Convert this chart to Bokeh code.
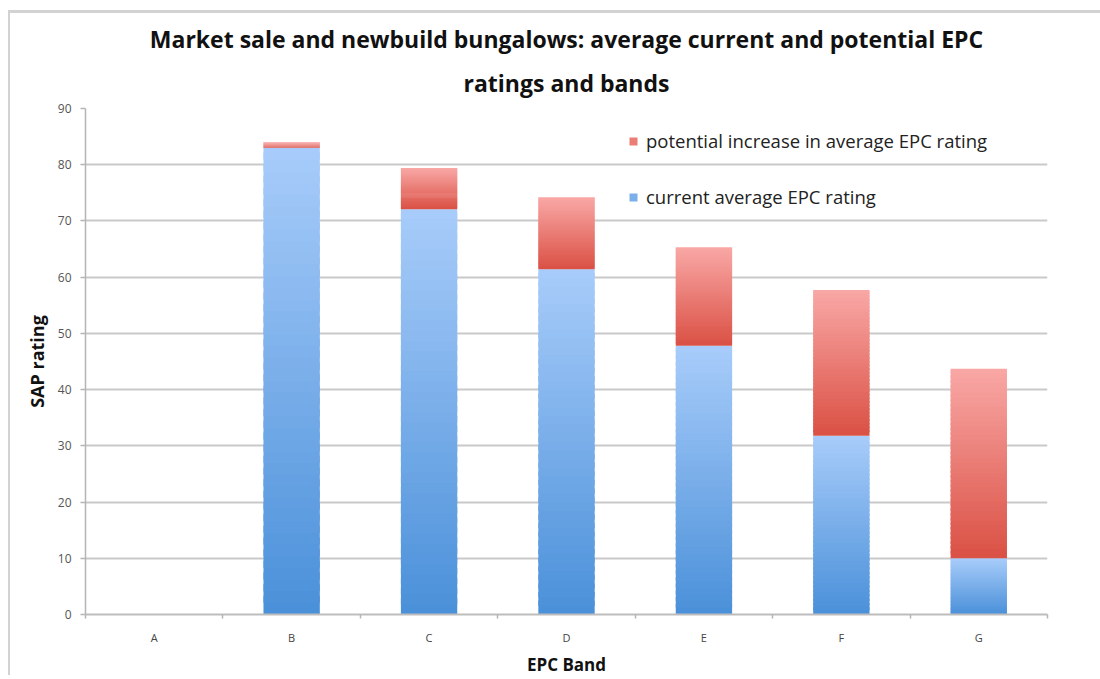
import numpy as np
from bokeh.plotting import figure
from bokeh.models import (ColumnDataSource, FixedTicker, Range1d, Legend, LegendItem, Spacer, Title)
from bokeh.layouts import column, row
from bokeh.embed import file_html
from bokeh.resources import INLINE

# ---- data ----
bands = ["A", "B", "C", "D", "E", "F", "G"]
current_rating = [0.0, 83.0, 72.1, 61.4, 47.8, 31.8, 10.0]
potential_rating = [0.0, 84.0, 79.4, 74.2, 65.3, 57.7, 43.7]
y_ticks = [0, 10, 20, 30, 40, 50, 60, 70, 80, 90]

title_line1 = "Market sale and newbuild bungalows: average current and potential EPC"
title_line2 = "ratings and bands"
series_names = ["potential increase in average EPC rating", "current average EPC rating"]

# ---- styles ----
BLUE_TOP, BLUE_BOT = (168, 204, 250), (74, 144, 217)
RED_TOP, RED_BOT = (249, 168, 166), (218, 80, 68)
BAR_W = 0.41
N_SLICES = 40
FONT = "Open Sans"


def hexc(c):
    return "#%02x%02x%02x" % tuple(int(round(v)) for v in c)


def gradient_source(bottoms, tops, c_top, c_bot, n=N_SLICES):
    L, R, B, T, C, owner = [], [], [], [], [], []
    for i, (b, t) in enumerate(zip(bottoms, tops)):
        if t - b <= 0:
            continue
        h = (t - b) / n
        for k in range(n):
            y0 = b + h * k
            y1 = b + h * (k + 1) + (h * 0.6 if k < n - 1 else 0)
            f = (k + 0.5) / n
            col = [c_bot[j] + (c_top[j] - c_bot[j]) * f for j in range(3)]
            L.append(i + 0.5 - BAR_W / 2)
            R.append(i + 0.5 + BAR_W / 2)
            B.append(y0)
            T.append(y1)
            C.append(hexc(col))
            owner.append(i)
    return ColumnDataSource(dict(left=L, right=R, bottom=B, top=T, color=C)), owner


p = figure(width=1092, height=665, output_backend="svg", toolbar_location=None,
           x_range=Range1d(0, len(bands)), y_range=Range1d(0, 90),
           min_border_left=75, min_border_right=55, min_border_top=95, min_border_bottom=63)
p.styles = {"border-top": "3px solid #d2d2d2", "border-left": "2px solid #d2d2d2"}
p.outline_line_color = None
p.background_fill_color = "white"
p.border_fill_color = "white"

# gridlines
p.xgrid.grid_line_color = None
p.ygrid.ticker = FixedTicker(ticks=y_ticks)
p.ygrid.grid_line_color = "#c9c9c9"
p.ygrid.grid_line_width = 2

# bars
src_cur, own_cur = gradient_source([0] * len(bands), current_rating, BLUE_TOP, BLUE_BOT)
src_pot, own_pot = gradient_source(current_rating, potential_rating, RED_TOP, RED_BOT)
r_cur = p.quad(left="left", right="right", bottom="bottom", top="top", fill_color="color",
               line_color=None, source=src_cur)
r_pot = p.quad(left="left", right="right", bottom="bottom", top="top", fill_color="color",
               line_color=None, source=src_pot)

idx_blue = own_cur.index(own_cur[-1]) + N_SLICES // 2
idx_red = own_pot.index(own_pot[-1]) + N_SLICES // 2
legend = Legend(items=[LegendItem(label=series_names[0], renderers=[r_pot], index=idx_red),
                       LegendItem(label=series_names[1], renderers=[r_cur], index=idx_blue)],
                location=(543, 405), orientation="vertical")
legend.background_fill_alpha = 0
legend.border_line_color = None
legend.glyph_width = 10
legend.glyph_height = 10
legend.label_text_font = FONT
legend.label_text_font_size = "18.5px"
legend.label_text_color = "#222222"
legend.label_standoff = 8
legend.spacing = 31
legend.padding = 0
legend.margin = 0
p.add_layout(legend, "center")

# x axis
xa = p.xaxis[0]
xa.ticker = FixedTicker(ticks=[i + 0.5 for i in range(len(bands))],
                        minor_ticks=list(range(len(bands) + 1)))
xa.major_label_overrides = {i + 0.5: b for i, b in enumerate(bands)}
xa.major_tick_line_color = None
xa.major_tick_out = 0
xa.major_tick_in = 0
xa.minor_tick_line_color = "#b5b5b5"
xa.minor_tick_line_width = 1.5
xa.minor_tick_out = 4
xa.minor_tick_in = 0
xa.axis_line_color = "#bdbdbd"
xa.axis_line_width = 2
xa.major_label_text_font = FONT
xa.major_label_text_font_size = "11px"
xa.major_label_text_color = "#444444"
xa.major_label_standoff = 11
xa.axis_label = "EPC Band"
xa.axis_label_text_font = FONT
xa.axis_label_text_font_style = "bold"
xa.axis_label_text_font_size = "17px"
xa.axis_label_text_color = "#111111"
xa.axis_label_standoff = 5

# y axis
ya = p.yaxis[0]
ya.ticker = FixedTicker(ticks=y_ticks)
ya.minor_tick_line_color = None
ya.major_tick_line_color = "#b5b5b5"
ya.major_tick_line_width = 1.5
ya.major_tick_out = 5
ya.major_tick_in = 0
ya.axis_line_color = "#b5b5b5"
ya.axis_line_width = 1.5
ya.major_label_text_font = FONT
ya.major_label_text_font_size = "12px"
ya.major_label_text_color = "#555555"
ya.major_label_standoff = 9
ya.axis_label = "SAP rating"
ya.axis_label_text_font = FONT
ya.axis_label_text_font_style = "bold"
ya.axis_label_text_font_size = "18px"
ya.axis_label_text_color = "#111111"
ya.axis_label_standoff = 6

# title (two centred lines; the added Title sits nearest the plot)
p.title.text = title_line1
p.title.align = "center"
p.title.text_font = FONT
p.title.text_font_style = "bold"
p.title.text_font_size = "23px"
p.title.text_color = "#111111"
p.title.standoff = 0
p.title.text_line_height = 0.6
t2 = Title(text=title_line2, align="center", text_font=FONT, text_font_style="bold",
           text_font_size="23px", text_color="#111111", standoff=20)
p.add_layout(t2, "above")

layout = row(Spacer(width=8), column(Spacer(height=10), p))
open("out.html", "w").write(file_html(layout, INLINE))
